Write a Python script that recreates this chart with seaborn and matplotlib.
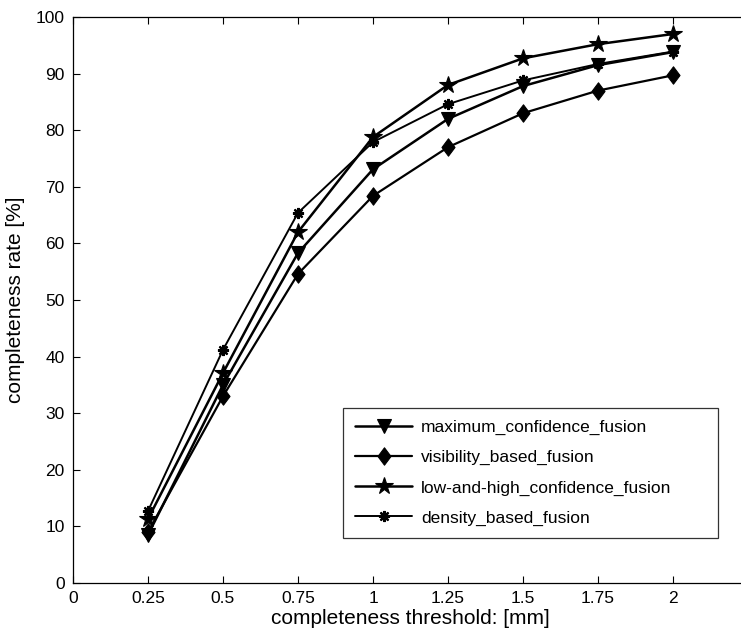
import matplotlib
matplotlib.use("Agg")
import matplotlib.pyplot as plt
from matplotlib.path import Path
import seaborn as sns
import pandas as pd

thresholds = [0.25, 0.5, 0.75, 1.0, 1.25, 1.5, 1.75, 2.0]
maximum_confidence = [8.5, 35.0, 58.3, 73.1, 82.0, 87.8, 91.5, 93.8]
visibility_based = [9.0, 33.0, 54.6, 68.4, 77.0, 83.0, 87.0, 89.7]
low_and_high = [11.3, 37.1, 62.0, 78.8, 88.0, 92.7, 95.2, 97.0]
density_based = [12.7, 41.2, 65.4, 77.9, 84.6, 88.8, 91.7, 93.9]

series_names = [
    "maximum_confidence_fusion",
    "visibility_based_fusion",
    "low-and-high_confidence_fusion",
    "density_based_fusion",
]
x_ticks = [0, 0.25, 0.5, 0.75, 1, 1.25, 1.5, 1.75, 2]
x_tick_labels = ["0", "0.25", "0.5", "0.75", "1", "1.25", "1.5", "1.75", "2"]
y_ticks = [0, 10, 20, 30, 40, 50, 60, 70, 80, 90, 100]

df = pd.DataFrame({
    "threshold": thresholds * 4,
    "rate": maximum_confidence + visibility_based + low_and_high + density_based,
    "method": [n for n in series_names for _ in thresholds],
})

sns.set_style("ticks")
plt.rcParams["font.family"] = ["Liberation Sans", "DejaVu Sans"]
plt.rcParams["text.color"] = "black"
plt.rcParams["axes.labelcolor"] = "black"
plt.rcParams["xtick.color"] = "black"
plt.rcParams["ytick.color"] = "black"

# slightly tall diamond
tall_diamond = Path([(0, 1), (0.75, 0), (0, -1), (-0.75, 0), (0, 1)],
                    [Path.MOVETO, Path.LINETO, Path.LINETO, Path.LINETO, Path.CLOSEPOLY])

fig = plt.figure(figsize=(7.41, 6.37), dpi=100)
ax = fig.add_axes([0.0985, 0.0848, 0.911, 0.8885])

styles = {
    "maximum_confidence_fusion": dict(marker="v", markersize=10, lw=1.8, mew=0.8),
    "visibility_based_fusion": dict(marker=tall_diamond, markersize=12.5, lw=1.6, mew=0.8),
    "low-and-high_confidence_fusion": dict(marker="*", markersize=13, lw=1.8, mew=0.8),
    "density_based_fusion": dict(marker=(8, 2, 0), markersize=8, lw=1.4, mew=1.6),
}

for name in series_names:
    st = styles[name]
    sub = df[df["method"] == name]
    sns.lineplot(
        data=sub, x="threshold", y="rate", ax=ax, color="black",
        linewidth=st["lw"], marker=st["marker"], markersize=st["markersize"],
        markerfacecolor="black", markeredgecolor="black",
        markeredgewidth=st["mew"],
        label=name, estimator=None, errorbar=None,
    )

ax.set_xlim(0, 2.25)
ax.set_ylim(0, 100)
ax.set_xticks(x_ticks)
ax.set_xticklabels(x_tick_labels)
ax.set_yticks(y_ticks)
ax.tick_params(axis="both", direction="in", length=5, width=0.8,
               labelsize=12.5, top=True, right=False, pad=6,
               colors="black")

for side in ["left", "bottom", "top"]:
    ax.spines[side].set_visible(True)
    ax.spines[side].set_linewidth(0.9)
    ax.spines[side].set_color("black")
ax.spines["right"].set_visible(False)

ax.set_xlabel("completeness threshold: [mm]", fontsize=15, labelpad=2, color="black")
ax.set_ylabel("completeness rate [%]", fontsize=15, labelpad=8, color="black")

leg = ax.legend(
    loc="lower left", bbox_to_anchor=(0.4, 0.08, 0.555, 0.31), mode="expand",
    fontsize=12.5, frameon=True, fancybox=False, edgecolor="black",
    handlelength=3.3, handletextpad=0.5, labelspacing=0.85, borderpad=0.7,
    borderaxespad=0,
)
leg.get_frame().set_linewidth(0.9)
for t in leg.get_texts():
    t.set_color("black")

fig.savefig("out.png", dpi=100)
